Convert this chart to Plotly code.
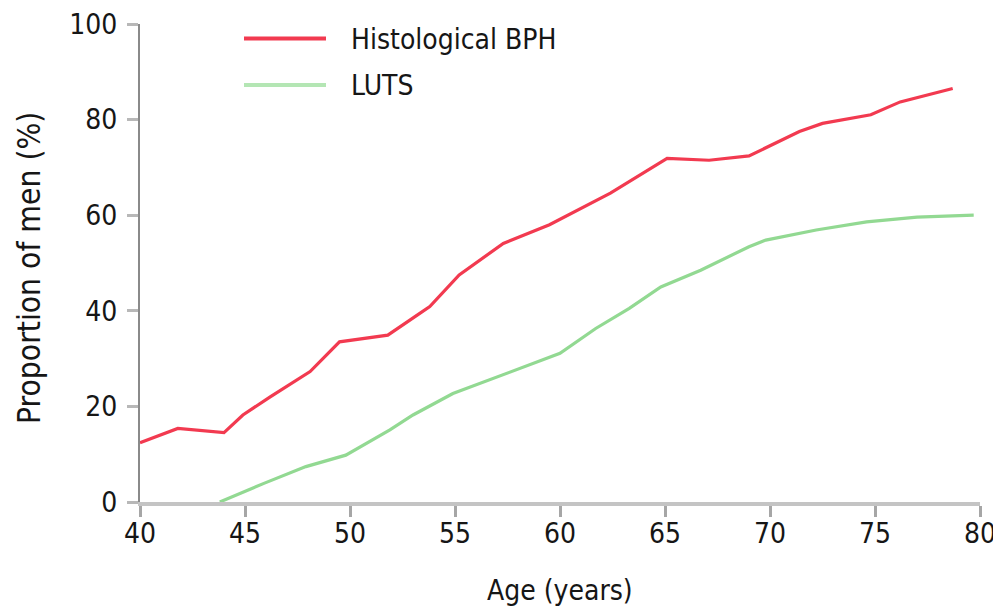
import plotly.graph_objects as go

# Histological BPH
bph_age = [40, 41.8, 44.0, 44.9, 46.2, 47.1, 48.1, 49.5, 50.6, 51.8, 53.2, 53.8,
           55.2, 57.3, 59.5, 62.4, 65.1, 67.1, 69.0, 71.4, 72.5, 74.8, 76.2, 78.7]
bph_val = [12.4, 15.4, 14.5, 18.2, 22.0, 24.5, 27.3, 33.5, 34.2, 34.9, 39.1, 40.9,
           47.5, 54.1, 58.0, 64.6, 71.9, 71.5, 72.4, 77.5, 79.2, 81.0, 83.7, 86.5]

# LUTS
luts_age = [43.8, 45.9, 47.9, 49.8, 51.9, 53.0, 54.9, 56.0, 58.3, 60.0, 61.7, 63.3,
            64.8, 66.7, 69.0, 69.8, 72.2, 74.6, 77.0, 79.7]
luts_val = [0, 3.9, 7.4, 9.8, 15.1, 18.2, 22.7, 24.5, 28.3, 31.1, 36.3, 40.5,
            45.0, 48.5, 53.4, 54.8, 56.9, 58.6, 59.6, 60.0]

x_ticks = [40, 45, 50, 55, 60, 65, 70, 75, 80]
y_ticks = [0, 20, 40, 60, 80, 100]

series_names = ["Histological BPH", "LUTS"]
RED = "#f23a50"
GREEN = "#92d992"
LEG_GREEN = "#b4e6b4"

NARROW = "DejaVu Sans Condensed, DejaVu Sans, sans-serif"
TXT = "#161616"

fig = go.Figure()
fig.add_trace(go.Scatter(x=bph_age, y=bph_val, mode="lines", name=series_names[0],
                         line=dict(color=RED, width=3.2), showlegend=False))
fig.add_trace(go.Scatter(x=luts_age, y=luts_val, mode="lines", name=series_names[1],
                         line=dict(color=GREEN, width=3.2), showlegend=False))

# plot area on page: x 140..980, y 24..502 (page has 8px body offset)
def px_x(p):
    return (p - 140) / 840.0

def px_y(p):
    return (502 - p) / 478.0

# custom legend
for name, col, ly in [(series_names[0], RED, 38.5), (series_names[1], LEG_GREEN, 85)]:
    fig.add_shape(type="line", xref="paper", yref="paper",
                  x0=px_x(244), x1=px_x(326), y0=px_y(ly), y1=px_y(ly),
                  line=dict(color=col, width=4))
    fig.add_annotation(xref="paper", yref="paper", x=px_x(349), y=px_y(ly + 1),
                       text=name, showarrow=False, xanchor="left", yanchor="middle",
                       font=dict(family=NARROW, size=28, color=TXT))

# axis titles
fig.add_annotation(xref="paper", yref="paper", x=px_x(29), y=px_y(268),
                   text="Proportion of men (%)", textangle=-90, showarrow=False,
                   xanchor="center", yanchor="middle",
                   font=dict(family=NARROW, size=31.5, color=TXT))
fig.add_annotation(xref="paper", yref="paper", x=px_x(560), y=px_y(590),
                   text="Age (years)", showarrow=False,
                   xanchor="center", yanchor="middle",
                   font=dict(family=NARROW, size=28, color=TXT))

fig.update_layout(
    width=993, height=598,
    margin=dict(l=132, r=21, t=16, b=104, autoexpand=False),
    paper_bgcolor="white", plot_bgcolor="white",
    xaxis=dict(range=[40, 80], tickvals=x_ticks, ticktext=[str(v) for v in x_ticks],
               showgrid=False, zeroline=False, automargin=False,
               ticklabeloverflow="allow",
               showline=True, linecolor="#c4c4c4", linewidth=4,
               ticks="outside", ticklen=11, tickwidth=3, tickcolor="#a6a6a6",
               ticklabelstandoff=-8,
               tickfont=dict(family=NARROW, size=28, color=TXT)),
    yaxis=dict(range=[0, 100], tickvals=y_ticks, ticktext=[str(v) for v in y_ticks],
               showgrid=False, zeroline=False, automargin=False,
               ticklabeloverflow="allow",
               showline=True, linecolor="#8a8a8a", linewidth=2,
               ticks="outside", ticklen=11, tickwidth=3, tickcolor="#b8b8b8",
               ticklabelstandoff=4,
               tickfont=dict(family=NARROW, size=28, color=TXT)),
)

fig.write_html("out.html")
